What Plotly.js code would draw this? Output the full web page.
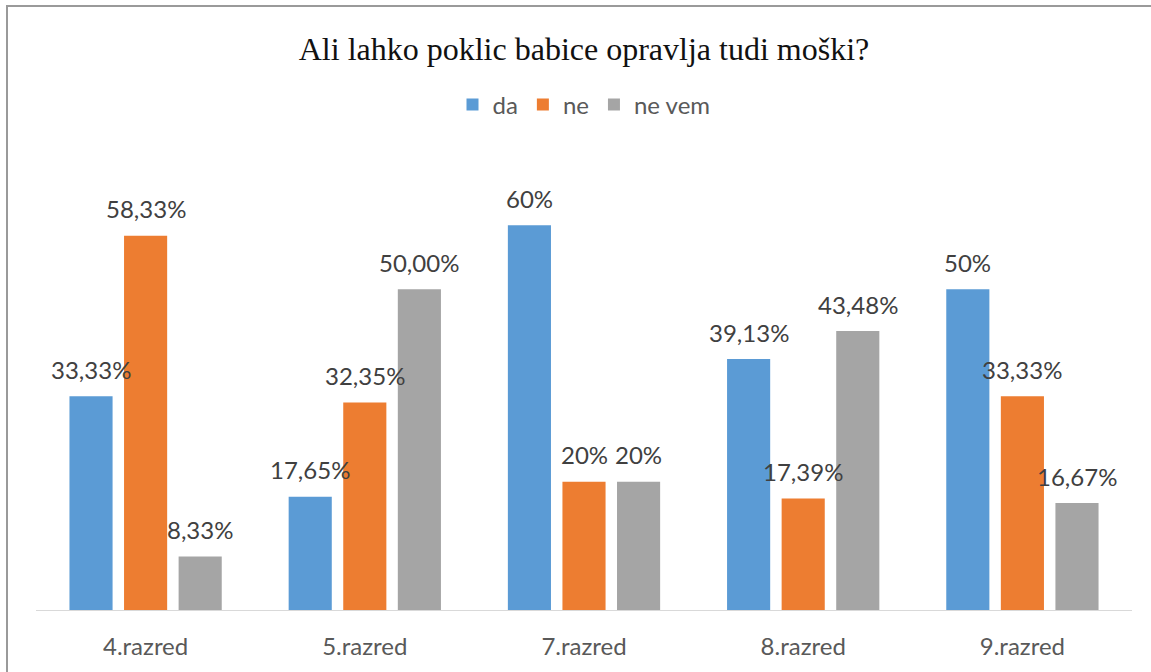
<!DOCTYPE html>
<html>
<head>
<meta charset="utf-8">
<script src="https://cdn.plot.ly/plotly-3.0.1.min.js"></script>
<style>
  html, body { margin: 0; padding: 0; background: #fff; }
  #chart { width: 1151px; height: 672px; }
  #frame { position: absolute; left: 6px; top: 5px; width: 1145px; height: 667px;
           border-left: 2px solid #9a9a9a; border-top: 2px solid #9a9a9a; pointer-events: none; }
</style>
</head>
<body>
<div id="chart"></div>
<div id="frame"></div>
<script>
const categories = ["4.razred", "5.razred", "7.razred", "8.razred", "9.razred"];
const seriesNames = ["da", "ne", "ne vem"];
const da = [33.33, 17.65, 60, 39.13, 50];
const ne = [58.33, 32.35, 20, 17.39, 33.33];
const neVem = [8.33, 50, 20, 43.48, 16.67];
const daLabels = ["33,33%", "17,65%", "60%", "39,13%", "50%"];
const neLabels = ["58,33%", "32,35%", "20%", "17,39%", "33,33%"];
const neVemLabels = ["8,33%", "50,00%", "20%", "43,48%", "16,67%"];
const colors = ["#5B9BD5", "#ED7D31", "#A5A5A5"];

const values = [da, ne, neVem];
const labels = [daLabels, neLabels, neVemLabels];

const traces = values.map((v, i) => ({
  type: "bar",
  name: seriesNames[i],
  x: categories,
  y: v,
  marker: { color: colors[i] },
  hoverinfo: "none"
}));

const slotShift = 54.6;
const annotations = [];
values.forEach((v, i) => {
  v.forEach((val, j) => {
    annotations.push({
      x: categories[j], y: val, xref: "x", yref: "y",
      text: labels[i][j], showarrow: false,
      xshift: (i - 1) * slotShift, yshift: 27, yanchor: "middle",
      font: { family: "Lato, sans-serif", size: 24, color: "#404040" }
    });
  });
});

const layout = {
  width: 1151, height: 672,
  margin: { l: 36, r: 19, t: 161, b: 62 },
  paper_bgcolor: "#ffffff", plot_bgcolor: "#ffffff",
  barmode: "group", bargap: 0.253, bargroupgap: 0.21,
  title: {
    text: "Ali lahko poklic babice opravlja tudi moški?",
    font: { family: "Liberation Serif, Times New Roman, serif", size: 32, color: "#111111" },
    xref: "paper", x: 0.5, xanchor: "center",
    yref: "container", y: 0.928, yanchor: "middle"
  },
  legend: {
    orientation: "h", x: 0.5, xanchor: "center", y: 1.125, yanchor: "middle",
    font: { family: "Lato, sans-serif", size: 24, color: "#595959" },
    itemclick: false, itemdoubleclick: false
  },
  xaxis: {
    type: "category", showgrid: false, showline: true, linecolor: "#D9D9D9", linewidth: 1,
    ticks: "", ticklabelstandoff: 15,
    tickfont: { family: "Lato, sans-serif", size: 24, color: "#595959" }
  },
  yaxis: {
    range: [0, 70], visible: false, showgrid: false, zeroline: false, fixedrange: true
  },
  annotations: annotations,
  showlegend: true
};

Plotly.newPlot("chart", traces, layout, { displayModeBar: false, staticPlot: true });
</script>
</body>
</html>
